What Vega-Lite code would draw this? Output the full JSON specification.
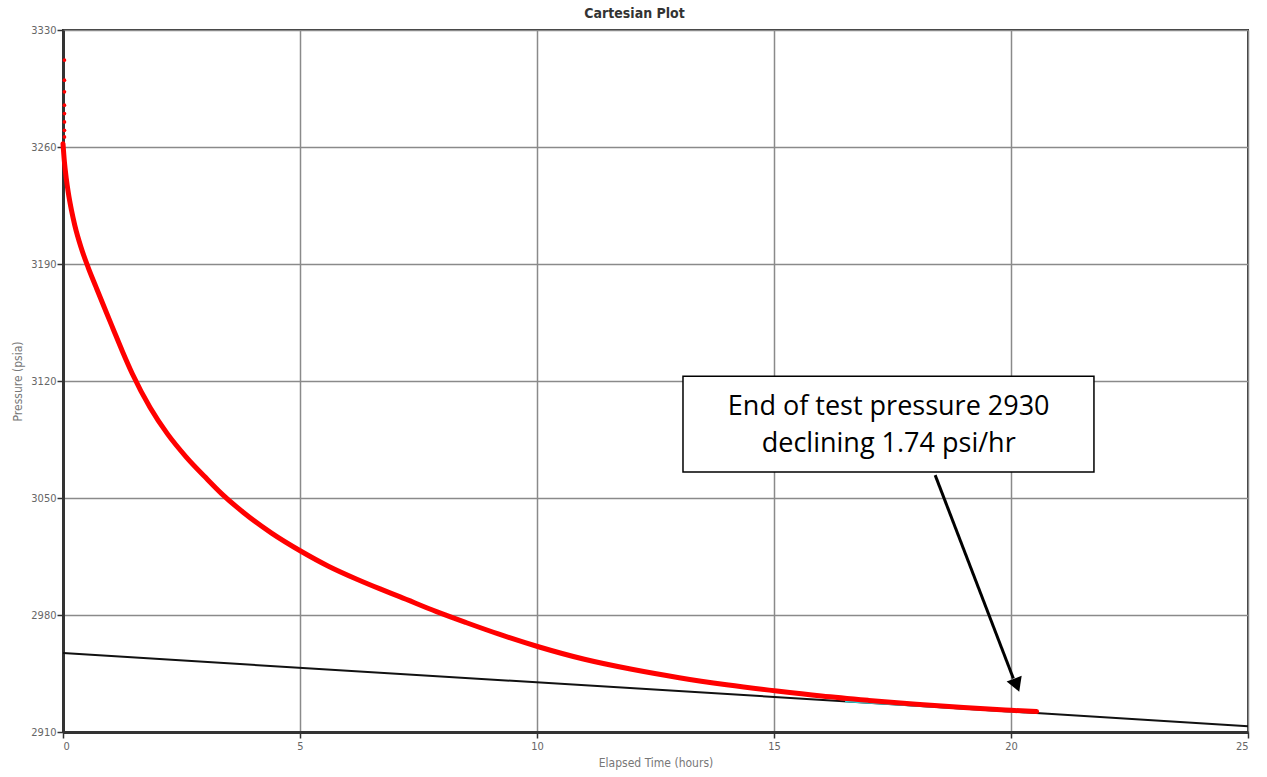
{
  "$schema": "https://vega.github.io/schema/vega-lite/v6.json",
  "width": 1185,
  "height": 702,
  "autosize": {"type": "none"},
  "padding": {"left": 63, "top": 30, "right": 19, "bottom": 45},
  "background": "white",
  "title": {"text": "Cartesian Plot", "fontSize": 14, "font": "DejaVu Sans Condensed", "fontWeight": "bold", "color": "#333", "offset": 3, "dx": -21},
  "config": {
    "view": {"stroke": "#333", "strokeWidth": 2},
    "axis": {
      "grid": true, "gridColor": "#8a8a8a", "gridWidth": 1.5, "gridOpacity": 1,
      "domainColor": "#333", "domainWidth": 3, "tickColor": "#333", "tickSize": 6, "tickWidth": 1.5,
      "labelFont": "DejaVu Sans Condensed", "labelFontSize": 11, "labelColor": "#666",
      "titleFont": "DejaVu Sans Condensed", "titleFontSize": 12, "titleFontWeight": "normal", "titleColor": "#777"
    }
  },
  "datasets": {
    "fit": [{"t": 0, "p": 2957.2}, {"t": 25, "p": 2913.5}],
    "seg": [{"t": 16.5, "p": 2928.4}, {"t": 20.3, "p": 2921.7}],
    "curve": [
      {"t": 0.0, "p": 3262}, {"t": 0.03, "p": 3251}, {"t": 0.07, "p": 3241}, {"t": 0.11, "p": 3233},
      {"t": 0.18, "p": 3222}, {"t": 0.25, "p": 3213}, {"t": 0.38, "p": 3200}, {"t": 0.53, "p": 3188},
      {"t": 0.7, "p": 3176}, {"t": 0.9, "p": 3162}, {"t": 1.06, "p": 3151}, {"t": 1.25, "p": 3138},
      {"t": 1.46, "p": 3124.5}, {"t": 1.84, "p": 3104}, {"t": 2.2, "p": 3088.5}, {"t": 2.6, "p": 3074.5},
      {"t": 3.0, "p": 3062.5}, {"t": 3.35, "p": 3052.5}, {"t": 3.8, "p": 3041.5}, {"t": 4.4, "p": 3029},
      {"t": 5.03, "p": 3018}, {"t": 5.6, "p": 3009.2}, {"t": 6.2, "p": 3001.4}, {"t": 6.69, "p": 2995.6},
      {"t": 7.1, "p": 2991}, {"t": 7.88, "p": 2982}, {"t": 8.5, "p": 2975.5}, {"t": 9.2, "p": 2968.5},
      {"t": 10.03, "p": 2961}, {"t": 11.0, "p": 2953.5}, {"t": 12.0, "p": 2947.5}, {"t": 13.0, "p": 2942.5},
      {"t": 14.0, "p": 2938.3}, {"t": 15.06, "p": 2934.5}, {"t": 16.0, "p": 2931.5}, {"t": 17.0, "p": 2928.9},
      {"t": 18.0, "p": 2926.6}, {"t": 19.0, "p": 2924.6}, {"t": 20.0, "p": 2923}, {"t": 20.54, "p": 2922.2}
    ],
    "dots": [
      {"t": 0.03, "p": 3312}, {"t": 0.03, "p": 3300}, {"t": 0.03, "p": 3293}, {"t": 0.03, "p": 3285},
      {"t": 0.03, "p": 3280}, {"t": 0.03, "p": 3275}, {"t": 0.03, "p": 3270}, {"t": 0.03, "p": 3266}
    ],
    "box": [{"t": 13.08, "t2": 21.75, "p": 3122.9, "p2": 3065.5}],
    "label": [
      {"t": 17.42, "p": 3104.5, "text": "End of test pressure 2930"},
      {"t": 17.42, "p": 3082.3, "text": "declining 1.74 psi/hr"}
    ],
    "arrow": [{"t": 18.4, "p": 3063.7, "t2": 20.05, "p2": 2942}],
    "head": [{"t": 20.12, "p": 2938}]
  },
  "encoding": {
    "x": {"field": "t", "type": "quantitative", "scale": {"domain": [0, 25], "nice": false, "zero": false},
      "axis": {"values": [0, 5, 10, 15, 20, 25], "format": "d", "title": "Elapsed Time (hours)", "labelPadding": 2, "titlePadding": 6}},
    "y": {"field": "p", "type": "quantitative", "scale": {"domain": [2910, 3330], "nice": false, "zero": false},
      "axis": {"values": [2910, 2980, 3050, 3120, 3190, 3260, 3330], "format": "d", "title": "Pressure (psia)", "labelPadding": 1, "titlePadding": 6}}
  },
  "layer": [
    {"data": {"name": "fit"}, "mark": {"type": "line", "color": "#111", "strokeWidth": 2}},
    {"data": {"name": "seg"}, "mark": {"type": "line", "color": "#2ad4d8", "strokeWidth": 2}},
    {"data": {"name": "curve"}, "mark": {"type": "line", "color": "#ff0000", "strokeWidth": 5, "strokeCap": "round", "interpolate": "monotone"}},
    {"data": {"name": "dots"}, "mark": {"type": "point", "filled": true, "color": "#ff0000", "size": 14, "opacity": 1}},
    {"data": {"name": "box"}, "mark": {"type": "rect", "fill": "white", "stroke": "black", "strokeWidth": 1.5},
      "encoding": {"x2": {"field": "t2"}, "y2": {"field": "p2"}}},
    {"data": {"name": "label"}, "mark": {"type": "text", "font": "Open Sans", "fontSize": 27, "color": "black", "align": "center", "baseline": "middle"},
      "encoding": {"text": {"field": "text"}}},
    {"data": {"name": "arrow"}, "mark": {"type": "rule", "color": "black", "strokeWidth": 3},
      "encoding": {"x2": {"field": "t2"}, "y2": {"field": "p2"}}},
    {"data": {"name": "head"}, "mark": {"type": "point", "shape": "triangle-up", "filled": true, "color": "black", "size": 260, "angle": 158.7, "opacity": 1}}
  ]
}
